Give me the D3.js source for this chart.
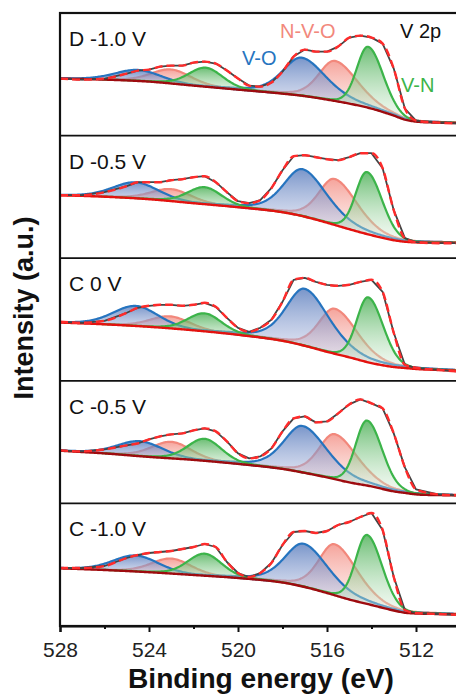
<!DOCTYPE html>
<html>
<head>
<meta charset="utf-8">
<script src="https://cdn.jsdelivr.net/npm/d3@7"></script>
<style>
  body { margin: 0; background: #fff; }
  svg { display: block; }
  text { font-family: "Liberation Sans", Arial, Helvetica, sans-serif; }
</style>
</head>
<body>
<svg id="chart" width="456" height="700"></svg>
<script>
// ---- V 2p XPS spectra, five samples stacked top to bottom ----
const panelLabels = ["D -1.0 V", "D -0.5 V", "C 0 V", "C -0.5 V", "C -1.0 V"];

// Binding energies (eV) of the spectrum points
const energy = [528, 527, 526, 525, 524.5, 524, 523.5, 523, 522.5, 522, 521.5, 521, 520.5, 520,
  519.5, 519, 518.5, 518, 517.5, 517, 516.5, 516, 515.5, 515, 514.5, 514, 513.5, 513, 512.5, 512, 511, 510];

// Spectrum intensity (a.u.) per sample; the fitted envelope traces the same curve
const countsD10 = [57, 56, 57, 62, 65, 66, 69, 70, 70, 73, 74, 72, 65, 57, 50, 49, 53, 64, 79, 86, 84, 84, 89, 98, 100, 98, 92, 67, 27, 15, 13, 12];
const countsD05 = [63, 63, 66, 72, 76, 76, 76, 78, 79, 81, 82, 76, 66, 57, 55, 58, 70, 88, 102, 103, 101, 99, 98, 101, 105, 105, 90, 48, 20, 16, 15, 15];
const countsC0  = [59, 58, 60, 68, 73, 75, 76, 76, 75, 76, 78, 74, 63, 53, 49, 53, 61, 79, 101, 103, 99, 96, 95, 96, 99, 101, 89, 48, 16, 13, 11, 9];
const countsC05 = [53, 52, 54, 58, 60, 64, 67, 69, 70, 73, 75, 72, 62, 50, 45, 47, 55, 72, 85, 87, 81, 82, 90, 99, 104, 100, 95, 70, 36, 14, 9, 8];
const countsC10 = [58, 58, 60, 68, 71, 73, 74, 75, 77, 79, 82, 79, 64, 53, 49, 53, 63, 81, 94, 95, 93, 95, 101, 104, 109, 113, 96, 49, 16, 13, 12, 11];

// Shirley background (a.u.) at these energies
const bgEnergy = [528, 526, 524, 522, 520, 518, 517, 516, 515, 514, 513, 512.5, 512, 511, 510];
const bgD10 = [57, 56, 54, 50, 46, 42, 39.5, 36, 32, 27, 20, 16, 14, 13, 12.5];
const bgD05 = [63, 61.5, 59, 55, 51, 46, 41.5, 35.5, 29, 23, 18, 16.5, 15.8, 15.5, 15.3];
const bgC0  = [58.3, 56.5, 54, 50.5, 46, 40, 35, 29, 23.5, 17.7, 13.8, 12.8, 11.8, 10.8, 10];
const bgC05 = [52.7, 50, 46.5, 43.5, 39.5, 34.5, 30.5, 26, 21, 17, 12, 10.5, 9, 8.3, 8];
const bgC10 = [57.7, 56, 53.8, 51, 48, 43.5, 39, 33, 26.5, 21, 15.5, 13.3, 12.5, 12, 11.5];

// Fitted components: centre (eV) and height above background, one entry per sample
const vn32Center  = [514.15, 514.2, 514.15, 514.2, 514.2];
const vn32Height  = [61, 62, 65, 65, 69];
const nvo32Center = [515.65, 515.65, 515.65, 515.65, 515.65];
const nvo32Height = [40, 46, 45, 45, 51];
const vo32Center  = [517.15, 517.1, 517.0, 517.1, 517.05];
const vo32Height  = [38, 47, 57, 46.5, 43];
const vn12Center  = [521.45, 521.5, 521.5, 521.5, 521.5];
const vn12Height  = [19, 17, 18, 22, 22];
const nvo12Center = [523.0, 523.0, 523.05, 523.0, 523.0];
const nvo12Height = [14, 12, 12, 16.5, 15];
const vo12Center  = [524.5, 524.6, 524.6, 524.4, 524.6];
const vo12Height  = [11, 16, 20, 15, 16];
// Line shape of each component (V-N, N-V-O, V-O for 2p3/2 then 2p1/2):
// FWHM on the high-energy side, FWHM on the low-energy side (eV), Lorentzian fraction
const fwhmHigh = [1.2, 1.7, 2.0, 1.8, 2.1, 2.4];
const fwhmLow  = [1.6, 2.4, 2.6, 1.8, 2.1, 2.4];
const lorentz  = [0.1, 0.3, 0.4, 0.2, 0.2, 0.2];

const xTicks = [528, 524, 520, 516, 512];
const xMinorTicks = [526, 522, 518, 514, 510];

// ---- assemble ----
const counts = [countsD10, countsD05, countsC0, countsC05, countsC10];
const bgs = [bgD10, bgD05, bgC0, bgC05, bgC10];
const compKeys = ["vn", "nvo", "vo", "vn", "nvo", "vo"];
const compCenters = [vn32Center, nvo32Center, vo32Center, vn12Center, nvo12Center, vo12Center];
const compHeights = [vn32Height, nvo32Height, vo32Height, vn12Height, nvo12Height, vo12Height];

const colors = {
  vn:  { line: "#3cb44a", top: "#3aa845", bottom: "#e3f3e3" },
  nvo: { line: "#f2887c", top: "#f2857a", bottom: "#fbe3e0" },
  vo:  { line: "#2674bf", top: "#4c72b8", bottom: "#dcdcf0" }
};
const bgColors = ["#9e0b0f", "#e3120f", "#e3120f", "#9e0b0f", "#9e0b0f"];

const svg = d3.select("#chart");
const plotL = 60, plotR = 460.5, plotT = 13, plotB = 626;
const nP = panelLabels.length;
const ph = (plotB - plotT) / nP;

const x = d3.scaleLinear().domain([528, 510]).range([plotL, plotR]);

// split pseudo-Voigt line shape
function shape(e, k, c) {
  const w = e >= c ? fwhmHigh[k] : fwhmLow[k];
  const d = e - c, r = 4 * d * d / (w * w), m = lorentz[k];
  return (1 - m) * Math.exp(-Math.LN2 * r) + m / (1 + r);
}

// monotone cubic interpolation through the background nodes
function makeInterp(xs, ys) {
  const px = xs.slice().reverse(), py = ys.slice().reverse();
  const n = px.length, dx = [], s = [], m = new Array(n);
  for (let i = 0; i < n - 1; i++) { dx.push(px[i + 1] - px[i]); s.push((py[i + 1] - py[i]) / dx[i]); }
  m[0] = s[0]; m[n - 1] = s[n - 2];
  for (let i = 1; i < n - 1; i++) m[i] = (s[i - 1] * s[i] <= 0) ? 0 : (s[i - 1] + s[i]) / 2;
  for (let i = 0; i < n - 1; i++) {
    if (s[i] === 0) { m[i] = 0; m[i + 1] = 0; continue; }
    const a = m[i] / s[i], b = m[i + 1] / s[i], t = a * a + b * b;
    if (t > 9) { const k = 3 / Math.sqrt(t); m[i] = k * a * s[i]; m[i + 1] = k * b * s[i]; }
  }
  return e => {
    let i = d3.bisectRight(px, e) - 1;
    i = Math.max(0, Math.min(n - 2, i));
    const h = dx[i], t = (e - px[i]) / h;
    const h00 = 2 * t * t * t - 3 * t * t + 1, h10 = t * t * t - 2 * t * t + t;
    const h01 = -2 * t * t * t + 3 * t * t, h11 = t * t * t - t * t;
    return h00 * py[i] + h10 * h * m[i] + h01 * py[i + 1] + h11 * h * m[i + 1];
  };
}

const defs = svg.append("defs");
Object.entries(colors).forEach(([k, c]) => {
  const g = defs.append("linearGradient").attr("id", "grad-" + k)
    .attr("x1", 0).attr("y1", 0).attr("x2", 0).attr("y2", 1);
  g.append("stop").attr("offset", "0%").attr("stop-color", c.top).attr("stop-opacity", 0.75);
  g.append("stop").attr("offset", "100%").attr("stop-color", c.bottom).attr("stop-opacity", 0.35);
});

const fine = d3.range(528, 509.99, -0.05);
const drawOrder = [1, 4, 2, 5, 0, 3]; // N-V-O, V-O, V-N

panelLabels.forEach((label, p) => {
  const y0 = plotT + p * ph, y1 = y0 + ph;
  const y = d3.scaleLinear().domain([0, ph]).range([y1, y0]);
  const bgF = makeInterp(bgEnergy, bgs[p]);

  defs.append("clipPath").attr("id", "clip" + p)
    .append("rect").attr("x", plotL).attr("y", y0).attr("width", plotR - plotL).attr("height", ph);
  const g = svg.append("g").attr("clip-path", `url(#clip${p})`);

  drawOrder.forEach(ci => {
    const c = compCenters[ci][p], h = compHeights[ci][p];
    const span = fine.filter(e => e - c <= 2.6 * fwhmHigh[ci] && c - e <= 2.6 * fwhmLow[ci]);
    const pts = span.map(e => ({ e, b: bgF(e), v: h * shape(e, ci, c) }));
    const col = colors[compKeys[ci]];
    g.append("path").datum(pts)
      .attr("fill", `url(#grad-${compKeys[ci]})`)
      .attr("d", d3.area().x(d => x(d.e)).y0(d => y(d.b)).y1(d => y(d.b + d.v)));
    g.append("path").datum(pts)
      .attr("fill", "none").attr("stroke", col.line).attr("stroke-width", 2.2)
      .attr("d", d3.line().x(d => x(d.e)).y(d => y(d.b + d.v)));
  });

  // background
  g.append("path").datum(fine)
    .attr("fill", "none").attr("stroke", bgColors[p]).attr("stroke-width", 2.4)
    .attr("d", d3.line().x(e => x(e)).y(e => y(bgF(e))));

  const spec = energy.map((e, i) => [e, counts[p][i]]);
  // measured spectrum
  g.append("path").datum(spec)
    .attr("fill", "none").attr("stroke", "#444").attr("stroke-width", 1.8)
    .attr("stroke-linejoin", "round")
    .attr("d", d3.line().x(d => x(d[0])).y(d => y(d[1])));
  // fitted envelope
  g.append("path").datum(spec)
    .attr("fill", "none").attr("stroke", "#ff2b2b").attr("stroke-width", 2.4)
    .attr("stroke-dasharray", "8,4")
    .attr("d", d3.line().curve(d3.curveMonotoneX).x(d => x(d[0])).y(d => y(d[1])));

  svg.append("text").attr("x", 69).attr("y", y0 + 33)
    .attr("font-size", 21).attr("fill", "#111").text(label);

  if (p > 0) {
    svg.append("line").attr("x1", plotL).attr("x2", plotR).attr("y1", y0).attr("y2", y0)
      .attr("stroke", "#111").attr("stroke-width", 1.8);
  }
});

// frame
svg.append("rect").attr("x", plotL).attr("y", plotT).attr("width", plotR - plotL).attr("height", plotB - plotT)
  .attr("fill", "none").attr("stroke", "#111").attr("stroke-width", 2.2);

// x axis
const ax = svg.append("g").attr("transform", `translate(0,${plotB})`)
  .call(d3.axisBottom(x).tickValues(xTicks).tickSize(6).tickPadding(10).tickFormat(d3.format("d")));
ax.select(".domain").attr("stroke", "#111").attr("stroke-width", 2.2);
ax.selectAll(".tick line").attr("stroke", "#111").attr("stroke-width", 2);
ax.selectAll(".tick text").attr("font-size", 21).attr("fill", "#222")
  .attr("font-family", '"Liberation Sans", Arial, sans-serif');
const axm = svg.append("g").attr("transform", `translate(0,${plotB})`)
  .call(d3.axisBottom(x).tickValues(xMinorTicks).tickSize(3).tickFormat(""));
axm.select(".domain").remove();
axm.selectAll(".tick line").attr("stroke", "#111").attr("stroke-width", 2);

// axis titles
svg.append("text").attr("x", 261).attr("y", 688).attr("text-anchor", "middle")
  .attr("font-size", 27).attr("font-weight", "bold").attr("fill", "#111")
  .attr("textLength", 266).attr("lengthAdjust", "spacingAndGlyphs")
  .text("Binding energy (eV)");
svg.append("text").attr("transform", "translate(33,308) rotate(-90)").attr("text-anchor", "middle")
  .attr("font-size", 27).attr("font-weight", "bold").attr("fill", "#111")
  .text("Intensity (a.u.)");

// component labels
svg.append("text").attr("x", 242).attr("y", 65).attr("font-size", 20).attr("fill", colors.vo.line).text("V-O");
svg.append("text").attr("x", 280).attr("y", 38).attr("font-size", 20).attr("fill", colors.nvo.line).text("N-V-O");
svg.append("text").attr("x", 401).attr("y", 92).attr("font-size", 20).attr("fill", colors.vn.line).text("V-N");
svg.append("text").attr("x", 400).attr("y", 38).attr("font-size", 20).attr("fill", "#111").text("V 2p");
</script>
</body>
</html>
